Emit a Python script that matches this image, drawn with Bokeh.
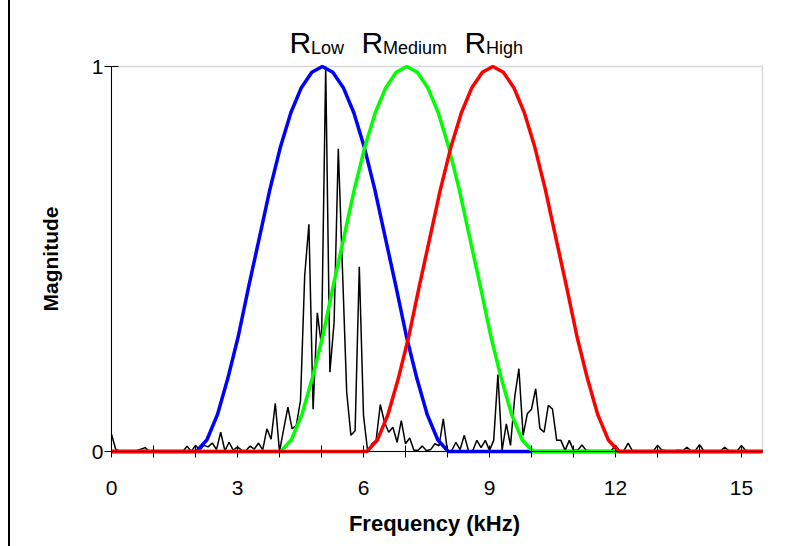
import math
from bokeh.plotting import figure
from bokeh.models import Range1d, FixedTicker, BoxAnnotation
from bokeh.core.properties import value
from bokeh.embed import file_html
from bokeh.resources import INLINE

# ---- data ----
freq_step = 0.1  # kHz between spectrum samples
spectrum = [
    0.045, 0.006, 0.0, 0.002, 0.0, 0.0, 0.002, 0.006, 0.01, 0.0,
    0.002, 0.002, 0.002, 0.002, 0.002, 0.002, 0.002, 0.0, 0.014, 0.0,
    0.016, 0.003, 0.016, 0.012, 0.022, 0.005, 0.05, 0.002, 0.024, 0.003,
    0.012, 0.003, 0.002, 0.014, 0.006, 0.022, 0.004, 0.059, 0.032, 0.125,
    0.0, 0.058, 0.115, 0.059, 0.068, 0.132, 0.457, 0.59, 0.11, 0.36,
    0.275, 1.0, 0.206, 0.336, 0.786, 0.47, 0.154, 0.042, 0.054, 0.48,
    0.094, 0.0, 0.02, 0.029, 0.122, 0.076, 0.05, 0.063, 0.024, 0.08,
    0.02, 0.035, 0.003, 0.003, 0.014, 0.002, 0.005, 0.02, 0.015, 0.085,
    0.0, 0.002, 0.024, 0.005, 0.042, 0.002, 0.002, 0.029, 0.01, 0.029,
    0.003, 0.029, 0.2, 0.003, 0.072, 0.016, 0.141, 0.215, 0.042, 0.098,
    0.11, 0.163, 0.06, 0.05, 0.12, 0.11, 0.029, 0.029, 0.003, 0.029,
    0.003, 0.003, 0.017, 0.003, 0.002, 0.002, 0.002, 0.002, 0.002, 0.002,
    0.016, 0.002, 0.002, 0.022, 0.002, 0.001, 0.001, 0.001, 0.001, 0.001,
    0.016, 0.004, 0.002, 0.002, 0.002, 0.003, 0.002, 0.011, 0.002, 0.002,
    0.018, 0.002, 0.002, 0.002, 0.002, 0.002, 0.011, 0.002, 0.002, 0.002,
    0.016, 0.002, 0.002, 0.002, 0.002, 0.002,
]
spec_freq = [round(i * freq_step, 3) for i in range(len(spectrum))]

filter_names = ["Low", "Medium", "High"]
filter_centers = [5.02, 7.03, 9.08]          # kHz
filter_colors = ["#0000FF", "#00FF00", "#FF0000"]
shape_offsets = [-3.0, -2.75, -2.5, -2.25, -2.0, -1.75, -1.5, -1.25, -1.0, -0.75, -0.5, -0.25, 0.0,
                 0.25, 0.5, 0.75, 1.0, 1.25, 1.5, 1.75, 2.0, 2.25, 2.5, 2.75, 3.0]
filter_shape = [0.0, 0.03, 0.095, 0.19, 0.30, 0.43, 0.555, 0.68, 0.79, 0.88, 0.945, 0.985, 1.0,
                0.985, 0.945, 0.88, 0.79, 0.68, 0.555, 0.43, 0.30, 0.19, 0.095, 0.03, 0.0]
freq_min, freq_max = 0.0, 15.5
mag_min, mag_max = 0.0, 1.0

x_ticks = list(range(16))
x_label_every = 3
y_ticks = [0, 1]
x_title = "Frequency (kHz)"
y_title = "Magnitude"

FONT = "Liberation Sans"

# ---- layout (canvas pixels; canvas starts 10 px from the page's left edge) ----
CW, CH = 778, 546
PL, PR, PT, PB = 101, 752, 66, 451          # plot area edges inside the canvas
sx = (PR - PL) / (freq_max - freq_min)       # px per kHz
sy = (PB - PT) / (mag_max - mag_min)         # px per unit magnitude
def fx(px):  # canvas x px -> data x
    return freq_min + (px - PL) / sx
def fy(py):  # canvas y px -> data y
    return mag_min + (PB - py) / sy

p = figure(width=CW, height=CH, output_backend="svg", toolbar_location=None, title=None,
           x_range=Range1d(fx(0), fx(CW)), y_range=Range1d(fy(CH), fy(0)),
           min_border=0, min_border_left=0, min_border_right=0, min_border_top=0, min_border_bottom=0,
           background_fill_color="white", border_fill_color="white",
           styles={"margin-left": "8px", "border-left": "2px solid #000"})
p.outline_line_color = None
p.xgrid.visible = False
p.ygrid.visible = False

# plot-area border (gray)
p.add_layout(BoxAnnotation(left=freq_min, right=freq_max, bottom=mag_min, top=mag_max,
                           fill_alpha=0, line_color="#808080", line_width=1.5, level="underlay"))

# spectrum
p.line(spec_freq, spectrum, line_color="black", line_width=1.5)

# filter responses
for c, col in zip(filter_centers, filter_colors):
    xs = [freq_min] + [c + o for o in shape_offsets] + [freq_max]
    ys = [0.0] + filter_shape + [0.0]
    p.line(xs, ys, line_color=col, line_width=3.5)

# axes (fixed at the data origin)
xa = p.xaxis[0]
xa.fixed_location = mag_min
xa.bounds = (freq_min, freq_max)
xa.ticker = FixedTicker(ticks=x_ticks)
xa.major_label_overrides = {t: ("" if t % x_label_every else str(t)) for t in x_ticks}
xa.minor_tick_line_color = None
xa.major_tick_in = 6
xa.major_tick_out = 6
xa.axis_line_color = "black"
xa.major_tick_line_color = "black"
xa.major_label_standoff = 23
xa.major_label_text_font = FONT
xa.major_label_text_font_size = "21px"
xa.major_label_text_color = "black"

ya = p.yaxis[0]
ya.fixed_location = freq_min
ya.bounds = (mag_min, mag_max)
ya.ticker = FixedTicker(ticks=y_ticks)
ya.minor_tick_line_color = None
ya.major_tick_in = 7
ya.major_tick_out = 7
ya.axis_line_color = "black"
ya.major_tick_line_color = "black"
ya.major_label_standoff = 1
ya.major_label_text_font = FONT
ya.major_label_text_font_size = "21px"
ya.major_label_text_color = "black"

# axis titles
p.text(x=[fx(424)], y=[fy(523)], text=[x_title], text_font=value(FONT), text_font_size="22px",
       text_font_style="bold", text_color="black", text_align="center", text_baseline="alphabetic")
p.text(x=[fx(40)], y=[fy(258.5)], text=[y_title], text_font=value(FONT), text_font_size="21px",
       text_font_style="bold", text_color="black", text_align="center", text_baseline="alphabetic",
       angle=math.pi / 2)

# R labels with subscripts
r_px = [279, 351, 454]          # left edge of each "R" (canvas px)
sub_dx = 21.5                   # px from R to its subscript
p.text(x=[fx(v) for v in r_px], y=[fy(42)] * 3, text=["R"] * 3,
       text_font=value(FONT), text_font_size="30px", text_color="black",
       text_baseline="alphabetic", text_align="left")
p.text(x=[fx(v + sub_dx) for v in r_px], y=[fy(47.5)] * 3, text=filter_names,
       text_font=value(FONT), text_font_size="18px", text_color="black",
       text_baseline="alphabetic", text_align="left")

open("out.html", "w").write(file_html(p, INLINE))
